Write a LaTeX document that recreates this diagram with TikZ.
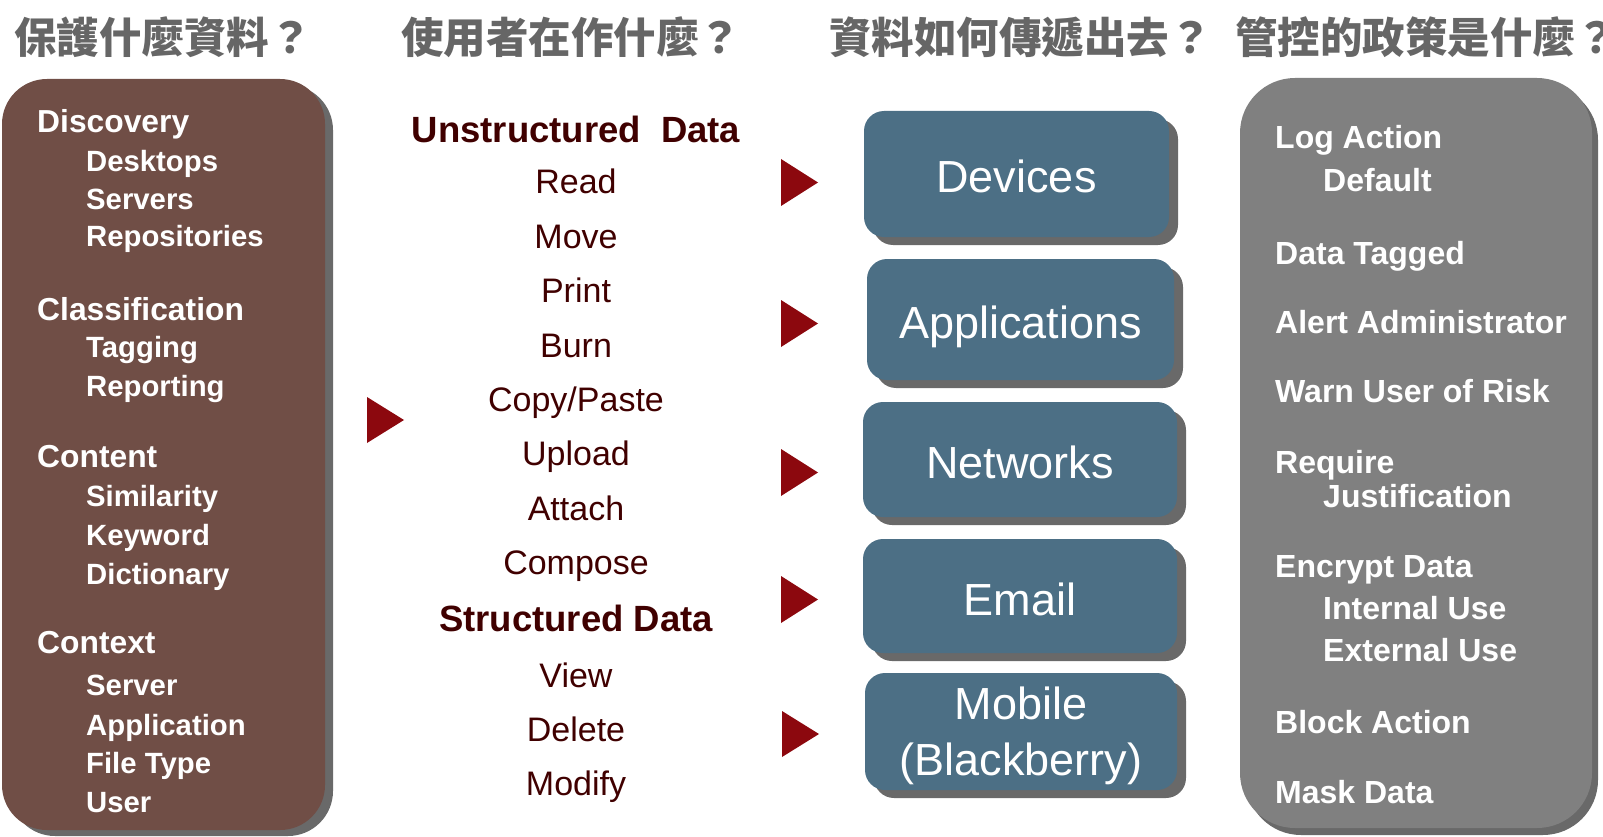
\documentclass[tikz,border=0pt]{standalone}
\usepackage{fontspec}
\setmainfont{Liberation Sans}
\newfontfamily\cjk{Noto Sans CJK TC}
\usetikzlibrary{shadows}
\definecolor{brownbox}{RGB}{112,78,70}
\definecolor{graybox}{RGB}{128,128,128}
\definecolor{chanblue}{RGB}{76,111,133}
\definecolor{shadowc}{RGB}{105,105,105}
\definecolor{tricol}{RGB}{140,8,14}
\definecolor{maroontxt}{RGB}{64,0,0}
\definecolor{headc}{RGB}{102,102,102}
\begin{document}
\begin{tikzpicture}[x=1pt,y=-1pt,
  head/.style={anchor=west,inner sep=0,text=headc,font=\cjk\bfseries\fontsize{42.5}{48}\selectfont},
  lhead/.style={anchor=base west,inner sep=0,text=white,font=\bfseries\fontsize{31.8}{36}\selectfont},
  lsub/.style={anchor=base west,inner sep=0,text=white,font=\bfseries\fontsize{29.3}{34}\selectfont},
  rtxt/.style={anchor=base west,inner sep=0,text=white,font=\bfseries\fontsize{32}{36}\selectfont},
  mtxt/.style={anchor=base,inner sep=0,text=maroontxt,font=\fontsize{34}{40}\selectfont},
  mbold/.style={anchor=base,inner sep=0,text=maroontxt,font=\bfseries\fontsize{36.5}{42}\selectfont},
  chan/.style={fill=chanblue,rounded corners=20pt,inner sep=0,text=white,
    font=\fontsize{45}{56}\selectfont,align=center,
    drop shadow={shadow xshift=9pt,shadow yshift=-8pt,fill=shadowc,opacity=1}},
  onecap/.style={text height=38pt,text depth=0pt},
  arrowtri/.style={fill=tricol}
]
\useasboundingbox (0,0) rectangle (1603,837);

% headers
\node[head] (h1) at (14,37) {保護什麼資料？};
\node[head] (h2) at (401,37) {使用者在作什麼？};
\node[head] (h3) at (829,37) {資料如何傳遞出去？};
\node[head] (h4) at (1235,37) {管控的政策是什麼？};

% left brown box
\fill[shadowc,rounded corners=45pt] (10,85) rectangle (333,836);
\fill[brownbox,rounded corners=45pt] (2,79) rectangle (325,830);

\node[lhead] (disc) at (37,133) {Discovery};
\node[lsub] (desk) at (86,172) {Desktops};
\node[lsub] (serv) at (86,210) {Servers};
\node[lsub] (repo) at (86,247) {Repositories};
\node[lhead] (clas) at (37,320) {Classification};
\node[lsub] (tagg) at (86,357) {Tagging};
\node[lsub] (repr) at (86,396) {Reporting};
\node[lhead] (cont) at (37,467) {Content};
\node[lsub] (simi) at (86,506) {Similarity};
\node[lsub] (keyw) at (86,545) {Keyword};
\node[lsub] (dict) at (86,584) {Dictionary};
\node[lhead] (ctx) at (37,653) {Context};
\node[lsub] (csrv) at (86,695) {Server};
\node[lsub] (capp) at (86,735) {Application};
\node[lsub] (cfty) at (86,773) {File Type};
\node[lsub] (cusr) at (86,812) {User};

% middle column
\node[mbold] (unst) at (576,143) {Unstructured\ \ Data};
\node[mtxt] (read) at (576,194) {Read};
\node[mtxt] (move) at (576,248) {Move};
\node[mtxt] (prnt) at (576,302) {Print};
\node[mtxt] (burn) at (576,357) {Burn};
\node[mtxt] (copy) at (576,411) {Copy/Paste};
\node[mtxt] (upld) at (576,465) {Upload};
\node[mtxt] (atch) at (576,520) {Attach};
\node[mtxt] (comp) at (576,574) {Compose};
\node[mbold] (strc) at (576,631) {Structured Data};
\node[mtxt] (view) at (576,687) {View};
\node[mtxt] (dele) at (576,741) {Delete};
\node[mtxt] (modi) at (576,795) {Modify};

% triangles
\fill[arrowtri] (367,397) -- (404,420) -- (367,443) -- cycle;
\fill[arrowtri] (781,159) -- (818,182.5) -- (781,206) -- cycle;
\fill[arrowtri] (781,300) -- (818,323.5) -- (781,347) -- cycle;
\fill[arrowtri] (781,449) -- (818,472.5) -- (781,496) -- cycle;
\fill[arrowtri] (781,576) -- (818,599.5) -- (781,623) -- cycle;
\fill[arrowtri] (782,711) -- (819,734) -- (782,757) -- cycle;

% channel boxes
\node[chan,onecap,minimum width=305pt,minimum height=126pt] (dev) at (1016.5,174) {Devices};
\node[chan,onecap,minimum width=307pt,minimum height=121pt] (app) at (1020.5,319.5) {Applications};
\node[chan,onecap,minimum width=314pt,minimum height=115pt] (net) at (1020,459.5) {Networks};
\node[chan,onecap,minimum width=314pt,minimum height=114pt] (eml) at (1020,596) {Email};
\node[chan,text depth=-4pt,minimum width=312pt,minimum height=117pt] (mob) at (1021,731.5) {Mobile\\(Blackberry)};

% right gray box
\fill[shadowc,rounded corners=55pt] (1246,85) rectangle (1598,835);
\fill[graybox,rounded corners=55pt] (1240,78) rectangle (1592,828);

\node[rtxt] (log) at (1275,149) {Log Action};
\node[rtxt] (dflt) at (1323,192) {Default};
\node[rtxt] (dtag) at (1275,264) {Data Tagged};
\node[rtxt] (alrt) at (1275,333) {Alert Administrator};
\node[rtxt] (warn) at (1275,402) {Warn User of Risk};
\node[rtxt] (reqr) at (1275,473) {Require};
\node[rtxt] (just) at (1323,507) {Justification};
\node[rtxt] (encr) at (1275,577) {Encrypt Data};
\node[rtxt] (intr) at (1323,619) {Internal Use};
\node[rtxt] (extr) at (1323,661) {External Use};
\node[rtxt] (blck) at (1275,733) {Block Action};
\node[rtxt] (mask) at (1275,803) {Mask Data};
\end{tikzpicture}
\end{document}
